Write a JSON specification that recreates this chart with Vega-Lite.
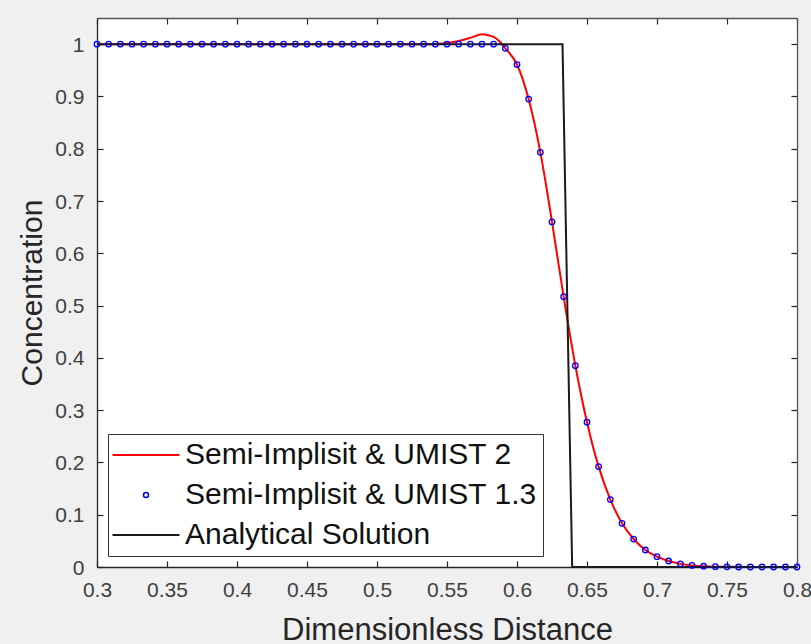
{
  "$schema": "https://vega.github.io/schema/vega-lite/v6.json",
  "width": 700,
  "height": 549,
  "autosize": "none",
  "padding": {"left": 97, "top": 18, "right": 14, "bottom": 77},
  "background": "#f0f0f0",
  "datasets": {
    "red": [{"x":0.3,"y":1},{"x":0.54,"y":1},{"x":0.55,"y":1.002},{"x":0.56,"y":1.007},{"x":0.5667,"y":1.012},{"x":0.575,"y":1.019},{"x":0.5833,"y":1.014},{"x":0.5875,"y":1.005},{"x":0.5917,"y":0.992},{"x":0.6,"y":0.961},{"x":0.6083,"y":0.895},{"x":0.6167,"y":0.793},{"x":0.625,"y":0.66},{"x":0.6333,"y":0.517},{"x":0.6417,"y":0.385},{"x":0.65,"y":0.277},{"x":0.6583,"y":0.192},{"x":0.6667,"y":0.129},{"x":0.675,"y":0.0836},{"x":0.6833,"y":0.0535},{"x":0.6917,"y":0.0325},{"x":0.7,"y":0.0197},{"x":0.7083,"y":0.0115},{"x":0.7167,"y":0.006},{"x":0.725,"y":0.003},{"x":0.7333,"y":0.0015},{"x":0.75,"y":0.0003},{"x":0.8,"y":0}],
    "blue": [{"x":0.3,"y":1},{"x":0.3083,"y":1},{"x":0.3167,"y":1},{"x":0.325,"y":1},{"x":0.3333,"y":1},{"x":0.3417,"y":1},{"x":0.35,"y":1},{"x":0.3583,"y":1},{"x":0.3667,"y":1},{"x":0.375,"y":1},{"x":0.3833,"y":1},{"x":0.3917,"y":1},{"x":0.4,"y":1},{"x":0.4083,"y":1},{"x":0.4167,"y":1},{"x":0.425,"y":1},{"x":0.4333,"y":1},{"x":0.4417,"y":1},{"x":0.45,"y":1},{"x":0.4583,"y":1},{"x":0.4667,"y":1},{"x":0.475,"y":1},{"x":0.4833,"y":1},{"x":0.4917,"y":1},{"x":0.5,"y":1},{"x":0.5083,"y":1},{"x":0.5167,"y":1},{"x":0.525,"y":1},{"x":0.5333,"y":1},{"x":0.5417,"y":1},{"x":0.55,"y":1},{"x":0.5583,"y":1},{"x":0.5667,"y":1},{"x":0.575,"y":1},{"x":0.5833,"y":1},{"x":0.5917,"y":0.992},{"x":0.6,"y":0.961},{"x":0.6083,"y":0.895},{"x":0.6167,"y":0.793},{"x":0.625,"y":0.66},{"x":0.6333,"y":0.517},{"x":0.6417,"y":0.385},{"x":0.65,"y":0.277},{"x":0.6583,"y":0.192},{"x":0.6667,"y":0.129},{"x":0.675,"y":0.0836},{"x":0.6833,"y":0.0535},{"x":0.6917,"y":0.0325},{"x":0.7,"y":0.0197},{"x":0.7083,"y":0.0115},{"x":0.7167,"y":0.006},{"x":0.725,"y":0.003},{"x":0.7333,"y":0.0015},{"x":0.7417,"y":0.0007},{"x":0.75,"y":0.0003},{"x":0.7583,"y":0},{"x":0.7667,"y":0},{"x":0.775,"y":0},{"x":0.7833,"y":0},{"x":0.7917,"y":0},{"x":0.8,"y":0}],
    "black": [{"x":0.3,"y":1},{"x":0.6325,"y":1},{"x":0.6394,"y":0},{"x":0.8,"y":0}]
  },
  "layer": [
    {
      "data": {"name": "red"},
      "mark": {"type": "line", "strokeWidth": 2, "interpolate": "monotone"},
      "encoding": {
        "x": {"field": "x", "type": "quantitative", "scale": {"domain": [0.3, 0.8], "nice": false, "zero": false},
              "axis": {"orient": "bottom", "values": [0.3,0.35,0.4,0.45,0.5,0.55,0.6,0.65,0.7,0.75,0.8], "format": "~g", "title": "Dimensionless Distance", "titleFontSize": 31, "titleY": 72, "titleBaseline": "alphabetic", "labelFlush": false, "labelOverlap": false, "labelPadding": 18}},
        "y": {"field": "y", "type": "quantitative", "scale": {"domain": [0, 1.05], "nice": false, "zero": false},
              "axis": {"orient": "left", "values": [0,0.1,0.2,0.3,0.4,0.5,0.6,0.7,0.8,0.9,1], "format": "~g", "title": "Concentration", "titleFontSize": 30, "titleX": -56, "titleBaseline": "alphabetic", "labelOverlap": false, "labelPadding": 19, "labelOffset": 1}},
        "color": {"datum": "Semi-Implisit & UMIST 2", "type": "nominal",
                  "scale": {"domain": ["Semi-Implisit & UMIST 2", "Semi-Implisit & UMIST 1.3", "Analytical Solution"], "range": ["#ff0000", "#0000ff", "#1a1a1a"]},
                  "legend": {
                    "orient": "bottom-left", "offset": 11, "title": null,
                    "strokeColor": "#333333", "fillColor": "white", "padding": 6,
                    "labelFont": "Liberation Sans", "labelFontSize": 30, "labelColor": "#111111", "labelLimit": 0,
                    "symbolType": "stroke", "symbolSize": 400, "symbolOffset": 17, "labelOffset": 24, "rowPadding": 10,
                    "symbolStrokeWidth": 2,
                    "encode": {
                      "symbols": {"update": {
                        "shape": {"signal": "datum.value === 'Semi-Implisit & UMIST 1.3' ? 'circle' : 'stroke'"},
                        "size": {"signal": "datum.value === 'Semi-Implisit & UMIST 1.3' ? 25 : 4489"},
                        "strokeWidth": {"signal": "datum.value === 'Semi-Implisit & UMIST 1.3' ? 1.5 : 2"},
                        "stroke": {"signal": "scale('color', datum.value)"},
                        "fill": {"value": "transparent"},
                        "opacity": {"value": 1}
                      }}
                    }
                  }}
      }
    },
    {
      "data": {"name": "black"},
      "mark": {"type": "line", "strokeWidth": 2},
      "encoding": {
        "x": {"field": "x", "type": "quantitative", "axis": {"orient": "top", "values": [0.3,0.35,0.4,0.45,0.5,0.55,0.6,0.65,0.7,0.75,0.8], "labels": false, "title": null, "domainColor": "#555555"}},
        "y": {"field": "y", "type": "quantitative", "axis": {"orient": "right", "values": [0,0.1,0.2,0.3,0.4,0.5,0.6,0.7,0.8,0.9,1], "labels": false, "title": null, "domainColor": "#555555"}},
        "color": {"datum": "Analytical Solution", "type": "nominal"}
      }
    },
    {
      "data": {"name": "blue"},
      "mark": {"type": "point", "shape": "circle", "filled": false, "size": 30, "strokeWidth": 1.3, "opacity": 1},
      "encoding": {
        "x": {"field": "x", "type": "quantitative", "axis": null},
        "y": {"field": "y", "type": "quantitative", "axis": null},
        "color": {"datum": "Semi-Implisit & UMIST 1.3", "type": "nominal"}
      }
    }
  ],
  "config": {
    "view": {"stroke": null, "fill": "white"},
    "axis": {"domainColor": "#262626", "domainWidth": 1.3, "tickColor": "#262626", "tickSize": -6, "tickWidth": 1.2, "labelFont": "Liberation Sans", "labelFontSize": 21, "labelColor": "#404040", "titleFont": "Liberation Sans", "titleColor": "#262626", "titleFontWeight": "normal", "grid": false}
  }
}
